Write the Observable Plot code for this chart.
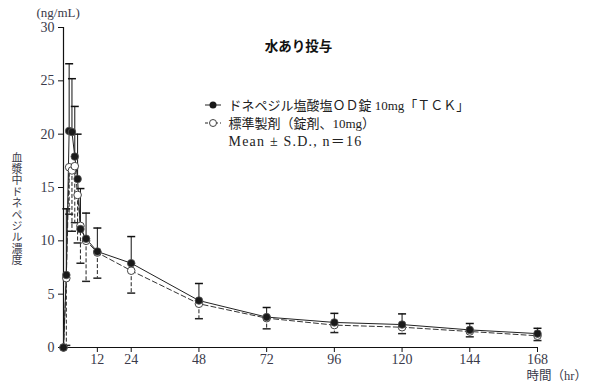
<!DOCTYPE html>
<html><head><meta charset="utf-8">
<script src="https://cdn.jsdelivr.net/npm/d3@7"></script>
<script src="https://cdn.jsdelivr.net/npm/@observablehq/plot@0.6"></script>
<style>
body{margin:0;background:#fff}
#chart{position:relative;width:592px;height:384px}
.note text{letter-spacing:1.2px}
#ylab{position:absolute;left:11px;top:152px;writing-mode:vertical-rl;text-orientation:upright;
  font-family:'Noto Sans CJK JP',sans-serif;font-size:11px;line-height:11px;letter-spacing:0.4px;color:#3a3a4a;white-space:nowrap}
</style>
</head><body><div id="chart"><div id="ylab"></div></div>
<script>
const times   = [0, 1, 2, 3, 4, 5, 6, 8, 12, 24, 48, 72, 96, 120, 144, 168];
const tckMean = [0, 6.8, 20.3, 20.2, 17.9, 15.8, 11.1, 10.2, 9.0, 7.9, 4.4, 2.85, 2.35, 2.15, 1.65, 1.3];
const tckSD   = [0, 6.2, 6.3, 5.0, 4.7, 4.2, 3.8, 2.4, 2.2, 2.5, 1.6, 0.9, 0.85, 1.0, 0.6, 0.5];
const stdMean = [0, 6.5, 16.9, 16.6, 17.0, 14.3, 11.4, 10.0, 8.9, 7.2, 4.1, 2.75, 2.1, 1.9, 1.5, 1.1];
const stdSD   = [0, 6.3, 4.4, 5.7, 5.3, 4.5, 3.5, 3.8, 2.4, 2.1, 1.4, 1.0, 0.7, 0.6, 0.5, 0.45];
const yTicks  = [0, 5, 10, 15, 20, 25, 30];
const xTicks  = [12, 24, 48, 72, 96, 120, 144, 168];
const seriesNames = ["ドネペジル塩酸塩ＯＤ錠 10mg「ＴＣＫ」", "標準製剤（錠剤、10mg）"];
const noteText = "Mean ± S.D., n＝16";
const titleText = "水あり投与";
const yLabel = "血漿中ドネペジル濃度";
const yUnit = "(ng/mL)";
const xLabel = "時間（hr）";

const tck = times.map((t, i) => ({t, mean: tckMean[i], sd: tckSD[i]}));
const std = times.map((t, i) => ({t, mean: stdMean[i], sd: stdSD[i]}));
const tckBars = tck.filter(d => d.sd > 0);
const stdBars = std.filter(d => d.sd > 0);

const cap = {draw(ctx) { ctx.moveTo(-4, 0); ctx.lineTo(4, 0); }};
const serif = "'Liberation Serif', 'DejaVu Serif', 'Noto Sans CJK JP', serif";
const jp = "'Liberation Serif', 'Noto Sans CJK JP', sans-serif";

const chart = Plot.plot({
  width: 592, height: 384,
  marginLeft: 63, marginRight: 55, marginTop: 27, marginBottom: 37,
  style: {fontFamily: serif, fontSize: "14px", color: "#3a3a4a", background: "#fff"},
  x: {domain: [0, 168]},
  y: {domain: [0, 30]},
  marks: [
    Plot.axisY({ticks: yTicks, tickSize: 5, tickPadding: 4, label: null, fontSize: 14, stroke: "#111"}),
    Plot.axisX({ticks: xTicks, tickSize: 5, tickPadding: 2, label: null, fontSize: 14, stroke: "#111", tickFormat: d => String(d)}),
    Plot.ruleX([0], {stroke: "#111", strokeWidth: 1.2}),
    Plot.ruleY([0], {stroke: "#111", strokeWidth: 1.2}),
    // standard: lower SD, dashed
    Plot.ruleX(stdBars, {x: "t", y1: "mean", y2: d => d.mean - d.sd, stroke: "#222", strokeDasharray: "4,2"}),
    Plot.dot(stdBars, {x: "t", y: d => d.mean - d.sd, symbol: cap, stroke: "#222", fill: "none", r: 4}),
    // TCK: upper SD, solid
    Plot.ruleX(tckBars, {x: "t", y1: "mean", y2: d => d.mean + d.sd, stroke: "#111"}),
    Plot.dot(tckBars, {x: "t", y: d => d.mean + d.sd, symbol: cap, stroke: "#111", fill: "none", r: 4}),
    Plot.line(std, {x: "t", y: "mean", stroke: "#333", strokeDasharray: "5,3", strokeWidth: 1}),
    Plot.line(tck, {x: "t", y: "mean", stroke: "#222", strokeWidth: 1}),
    Plot.dot(std, {x: "t", y: "mean", r: 3.8, fill: "#fff", stroke: "#444", strokeWidth: 1}),
    Plot.dot(tck, {x: "t", y: "mean", r: 3.8, fill: "#1a1a1a", stroke: "#555", strokeWidth: 0.8}),
    // texts
    Plot.text([titleText], {frameAnchor: "top", lineAnchor: "middle", dx: -2, dy: 19, fontSize: 13.5, fontWeight: "bold", fill: "#111", fontFamily: "'Noto Sans CJK JP', sans-serif"}),
    Plot.text([yUnit], {frameAnchor: "top-left", textAnchor: "start", lineAnchor: "middle", dx: -27, dy: -15, fontSize: 13, fill: "#3a3a4a"}),
    Plot.text([xLabel], {frameAnchor: "bottom-right", textAnchor: "start", lineAnchor: "middle", dx: -11, dy: 28, fontSize: 12.5, fill: "#3a3a4a", fontFamily: jp}),
    // legend
    Plot.text([seriesNames[0]], {frameAnchor: "top-left", textAnchor: "start", lineAnchor: "middle", dx: 165, dy: 78, fontSize: 13, fill: "#222", fontFamily: jp}),
    Plot.text([seriesNames[1]], {frameAnchor: "top-left", textAnchor: "start", lineAnchor: "middle", dx: 165, dy: 96, fontSize: 13, fill: "#222", fontFamily: jp}),
    Plot.text([noteText], {frameAnchor: "top-left", textAnchor: "start", lineAnchor: "middle", dx: 165, dy: 114, fontSize: 14, fill: "#222", fontFamily: jp, className: "note"})
  ]
});
document.getElementById("chart").appendChild(chart);
document.getElementById("ylab").textContent = yLabel;

const svg = d3.select(chart);
// legend symbols
const g = svg.append("g");
g.append("line").attr("x1", 205).attr("x2", 221).attr("y1", 105).attr("y2", 105).attr("stroke", "#222");
g.append("circle").attr("cx", 213).attr("cy", 105).attr("r", 3.5).attr("fill", "#1a1a1a");
g.append("line").attr("x1", 205).attr("x2", 221).attr("y1", 123).attr("y2", 123).attr("stroke", "#222").attr("stroke-dasharray", "3,2");
g.append("circle").attr("cx", 213).attr("cy", 123).attr("r", 3.5).attr("fill", "#fff").attr("stroke", "#444");
</script>
</body></html>
